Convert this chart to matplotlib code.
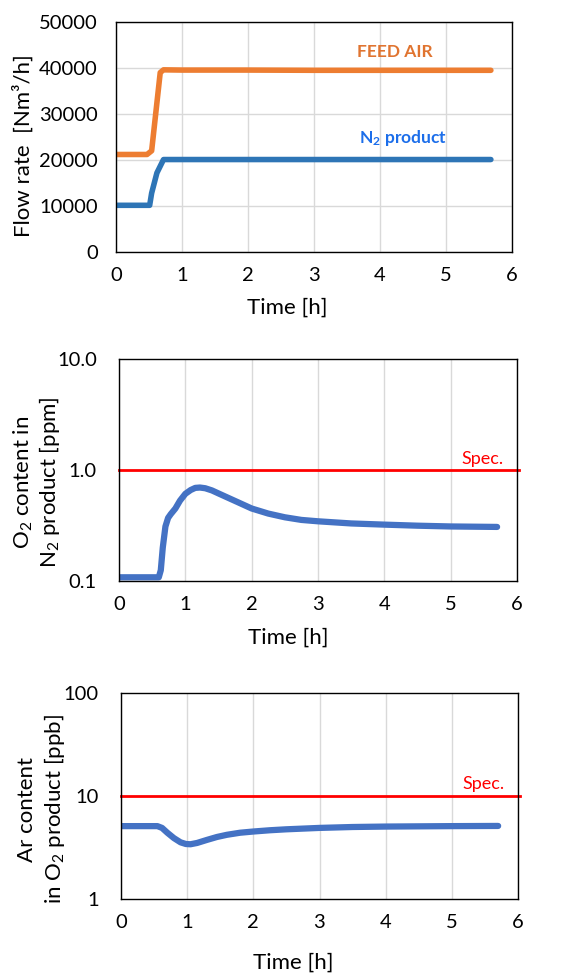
import matplotlib
matplotlib.use('Agg')
import matplotlib.pyplot as plt

plt.rcParams['font.family'] = ['Lato', 'DejaVu Sans']
plt.rcParams['mathtext.fontset'] = 'custom'
plt.rcParams['mathtext.rm'] = 'Lato'
plt.rcParams['mathtext.it'] = 'Lato:italic'
plt.rcParams['mathtext.bf'] = 'Lato:bold'

# flow rates
feed_t = [0, 0.47, 0.54, 0.67, 0.72, 1, 2, 3, 4, 5, 5.68]
feed_air = [21200, 21200, 22000, 39000, 39600, 39550, 39550, 39500, 39500, 39500, 39500]
n2_t = [0, 0.51, 0.54, 0.62, 0.72, 1, 2, 3, 4, 5, 5.68]
n2_flow = [10150, 10150, 12800, 17200, 20100, 20100, 20100, 20100, 20100, 20100, 20100]

# O2 content in N2 product [ppm]
o2_t = [0, 0.6, 0.63, 0.66, 0.7, 0.74, 0.78, 0.85, 0.92, 1.0, 1.08, 1.15, 1.22, 1.3,
        1.4, 1.5, 1.65, 1.8, 2.0, 2.25, 2.5, 2.75, 3.0, 3.5, 4.0, 4.5, 5.0, 5.7]
o2_ppm = [0.108, 0.108, 0.125, 0.2, 0.31, 0.37, 0.40, 0.45, 0.53, 0.61, 0.66, 0.69, 0.695, 0.685,
          0.655, 0.615, 0.56, 0.51, 0.45, 0.405, 0.375, 0.355, 0.345, 0.33, 0.322, 0.315, 0.31, 0.307]
o2_spec = 1.0

# Ar content in O2 product [ppb]
ar_t = [0, 0.55, 0.62, 0.7, 0.8, 0.9, 0.98, 1.05, 1.15, 1.3, 1.45, 1.6, 1.8, 2.0,
        2.25, 2.5, 3.0, 3.5, 4.0, 5.0, 5.7]
ar_ppb = [5.1, 5.1, 4.9, 4.4, 3.9, 3.55, 3.42, 3.4, 3.5, 3.75, 4.0, 4.2, 4.4, 4.52,
          4.65, 4.75, 4.9, 5.0, 5.05, 5.1, 5.12]
ar_spec = 10

x_ticks = [0, 1, 2, 3, 4, 5, 6]

W, H = 564, 974
fig = plt.figure(figsize=(W / 100, H / 100), dpi=100)


def box(l, t, r, b):
    return [l / W, 1 - b / H, (r - l) / W, (b - t) / H]


def style(ax, ypad):
    ax.set_xlim(0, 6)
    ax.set_xticks(x_ticks)
    ax.tick_params(axis='both', length=0, labelsize=14.5)
    ax.tick_params(axis='x', pad=11)
    ax.tick_params(axis='y', pad=ypad)
    ax.minorticks_off()
    for s in ax.spines.values():
        s.set_color('black')
        s.set_linewidth(1.0)
    ax.set_axisbelow(True)


grid_c = '#D9D9D9'
lab_fs = 16

# top chart
ax1 = fig.add_axes(box(116, 22, 512, 252))
ax1.plot(feed_t, feed_air, color='#ED7D31', lw=4, solid_capstyle='round', solid_joinstyle='round')
ax1.plot(n2_t, n2_flow, color='#2E75B6', lw=4, solid_capstyle='round', solid_joinstyle='round')
ax1.set_ylim(0, 50000)
ax1.set_yticks([0, 10000, 20000, 30000, 40000, 50000])
ax1.grid(True, color=grid_c, lw=1)
style(ax1, 13)
ax1.text(4.23, 43500, 'FEED AIR', color='#E07430', fontsize=12.5, fontweight='bold',
         ha='center', va='center')
ax1.text(4.35, 24800, r'$\mathbf{N_2}$ product', color='#1C6EEA', fontsize=12.5,
         fontweight='bold', ha='center', va='center')
fig.text(23 / W, 1 - 146 / H, 'Flow rate  [Nm³/h]', rotation=90, ha='center',
         va='center', fontsize=lab_fs)
fig.text(287 / W, 1 - 308 / H, 'Time [h]', ha='center', va='center', fontsize=lab_fs)

# middle chart
ax2 = fig.add_axes(box(119, 359, 517, 581))
ax2.set_yscale('log')
ax2.plot(o2_t, o2_ppm, color='#4472C4', lw=4.5, solid_capstyle='round', solid_joinstyle='round')
ax2.axhline(o2_spec, xmax=1.006, color='#FF0000', lw=2, clip_on=False)
ax2.set_ylim(0.1, 10)
ax2.set_yticks([0.1, 1, 10], ['0.1', '1.0', '10.0'])
ax2.grid(True, axis='x', color=grid_c, lw=1)
style(ax2, 16)
ax2.text(5.8, o2_spec * 1.06, 'Spec.', color='#FF0000', fontsize=13, ha='right', va='bottom')
fig.text(37 / W, 1 - 482 / H, 'O$_2$ content in\nN$_2$ product [ppm]', rotation=90,
         ha='center', va='center', fontsize=lab_fs, multialignment='center', linespacing=1.1)
fig.text(288 / W, 1 - 638 / H, 'Time [h]', ha='center', va='center', fontsize=lab_fs)

# bottom chart
ax3 = fig.add_axes(box(121, 693, 518, 899))
ax3.set_yscale('log')
ax3.plot(ar_t, ar_ppb, color='#4472C4', lw=4.5, solid_capstyle='round', solid_joinstyle='round')
ax3.axhline(ar_spec, xmax=1.006, color='#FF0000', lw=2, clip_on=False)
ax3.set_ylim(1, 100)
ax3.set_yticks([1, 10, 100], ['1', '10', '100'])
ax3.grid(True, axis='x', color=grid_c, lw=1)
style(ax3, 16)
ax3.text(5.79, ar_spec * 1.09, 'Spec.', color='#FF0000', fontsize=13, ha='right', va='bottom')
fig.text(42 / W, 1 - 809 / H, 'Ar content\nin O$_2$ product [ppb]', rotation=90,
         ha='center', va='center', fontsize=lab_fs, multialignment='center', linespacing=1.25)
fig.text(293 / W, 1 - 963 / H, 'Time [h]', ha='center', va='center', fontsize=lab_fs)

fig.savefig('out.png', dpi=100)
